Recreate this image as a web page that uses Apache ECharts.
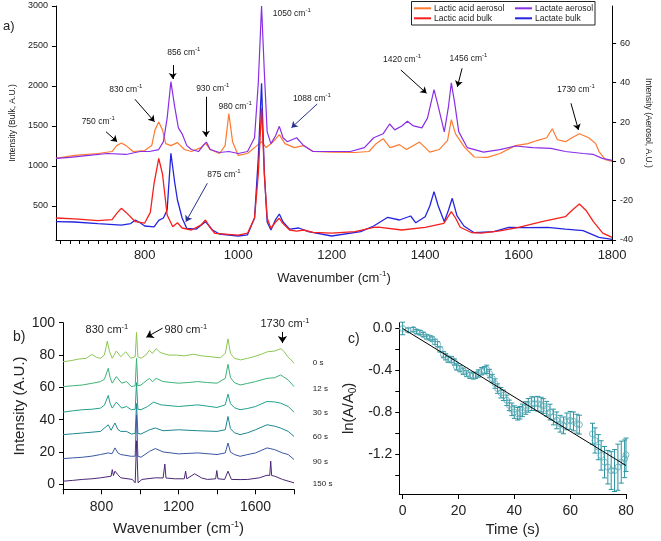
<!DOCTYPE html>
<html><head><meta charset="utf-8">
<script src="https://cdn.jsdelivr.net/npm/echarts@6/dist/echarts.min.js"></script>
<style>html,body{margin:0;padding:0;background:#fff}#c{width:661px;height:541px}</style>
</head><body><div id="c"></div>
<script>
// ---------- Panel a) data (wavenumber, intensity) ----------
// aerosol spectra on right axis (A.U.)
const LACTIC_AEROSOL = [[610,1.5],[650,3],[700,4],[730,5],[740,8],[750,9.3],[760,8],[775,5],[800,5.5],[815,8],[822,16],[830,20],[838,16],[845,9],[856,8],[870,9.5],[885,6],[900,5],[920,7],[930,9.3],[940,6],[960,4],[972,8],[980,24.3],[988,10],[1000,3],[1020,4],[1040,8],[1050,10],[1060,7],[1075,10],[1088,13.6],[1100,9],[1120,7],[1140,8],[1160,5],[1200,4.7],[1250,4.5],[1280,5],[1295,9],[1310,11.5],[1325,7],[1345,8.5],[1360,6],[1388,9.8],[1410,4.7],[1430,6],[1448,10.7],[1456,21.2],[1465,14],[1485,7],[1505,2.2],[1533,2],[1560,4],[1593,8],[1620,9],[1641,10.7],[1660,12],[1672,16.6],[1683,11],[1700,10],[1717,12.4],[1730,14],[1750,12],[1765,9],[1772,5],[1786,0.8],[1800,0]];
const LACTATE_AEROSOL = [[610,1.5],[640,2],[680,3],[720,4],[760,3.5],[790,5],[810,5],[830,6],[840,10],[848,22],[856,40.5],[864,28],[872,17],[880,14],[890,8],[900,6],[915,5],[925,8],[932,9.8],[940,6],[960,4.5],[980,5],[1000,4],[1020,5],[1035,12],[1043,40],[1050,79],[1056,45],[1062,15],[1070,9],[1080,13],[1088,17.8],[1096,12],[1105,10],[1115,11],[1125,12],[1140,8],[1160,5],[1200,5],[1240,5],[1270,7],[1290,12],[1310,14],[1324,19],[1335,16],[1350,18],[1362,20.4],[1375,18],[1393,17],[1405,22],[1419,36.5],[1428,28],[1441,15],[1450,28],[1456,39.9],[1463,30],[1472,15],[1490,7],[1525,4.7],[1560,6],[1593,7.8],[1630,7],[1669,6.6],[1700,5],[1738,4],[1760,3.5],[1779,1.5],[1800,0.5]];
// bulk spectra on left axis (A.U.)
const LACTIC_BULK = [[610,350],[650,340],[700,316],[730,330],[742,420],[750,471],[760,420],[780,304],[800,287],[812,420],[820,784],[830,1096],[838,900],[848,387],[860,241],[870,291],[880,225],[900,200],[920,260],[930,325],[940,230],[950,159],[1000,137],[1020,160],[1035,350],[1043,900],[1050,1721],[1056,900],[1062,350],[1070,220],[1080,300],[1088,346],[1096,280],[1110,200],[1125,185],[1140,200],[1160,170],[1200,160],[1250,180],[1290,234],[1300,235],[1350,200],[1400,234],[1440,284],[1456,429],[1465,350],[1475,234],[1500,166],[1520,160],[1560,190],[1600,234],[1650,304],[1700,366],[1715,450],[1730,525],[1745,440],[1760,304],[1780,160],[1800,109]];
const LACTATE_BULK = [[610,304],[650,300],[700,280],[750,262],[770,280],[780,325],[790,290],[800,250],[820,240],[830,320],[840,350],[848,450],[856,1159],[864,800],[870,575],[880,350],[890,220],[910,210],[930,304],[945,200],[960,150],[1000,125],[1020,140],[1035,350],[1043,1100],[1050,2033],[1056,900],[1062,300],[1070,200],[1080,330],[1088,400],[1096,300],[1110,210],[1130,225],[1150,180],[1200,125],[1262,180],[1290,250],[1320,359],[1345,325],[1369,375],[1380,290],[1400,366],[1410,500],[1419,679],[1428,500],[1441,304],[1450,450],[1458,596],[1468,380],[1483,250],[1505,166],[1547,180],[1579,234],[1620,230],[1662,234],[1700,210],[1738,191],[1772,109],[1800,84]];
const A_X_LABELS = [800,1000,1200,1400,1600,1800];
const A_YL_LABELS = [500,1000,1500,2000,2500,3000];
const A_YR_LABELS = [-40,-20,0,20,40,60];
// annotations: [text, wavenumber (left edge), bulk-axis value]
const A_NOTES = [['750 cm',665,1554],['830 cm',724,1950],['856 cm',848,2416],['930 cm',910,1971],['980 cm',958,1741],['1050 cm',1074,2909],['1088 cm',1117,1846],['875 cm',934,887],['1420 cm',1310,2325],['1456 cm',1452,2346],['1730 cm',1682,1950]];
// arrows: [fromX, fromY, toX, toY, colour]
const A_ARROWS = [[717,1429,741,1304,'#000'],[779,1834,821,1554,'#000'],[860,2262,860,2087,'#000'],[931,1866,931,1366,'#000'],[1169,1775,1114,1479,'#25308f'],[934,784,888,304,'#25308f'],[1348,2200,1403,1909,'#000'],[1479,2221,1469,1991,'#000'],[1712,1784,1728,1450,'#000']];

// ---------- Panel b) data ----------
const B_TIMES = ['0 s','12 s','30 s','60 s','90 s','150 s'];
const T0 = [[600,75.9],[640,76.5],[681,77.5],[720,78],[751,80.4],[775,78.5],[795,78],[815,80],[830,88.6],[842,82],[856,78],[877,82.5],[900,79],[926,82],[952,78],[975,79],[982,94],[989,79],[1005,78],[1030,80],[1049,83],[1065,81],[1084,84],[1100,82],[1119,81],[1150,80],[1189,80],[1230,79.5],[1277,80.5],[1320,79.5],[1364,79],[1417,78.3],[1443,81],[1457,90],[1470,81],[1490,78],[1522,77],[1560,78],[1592,79],[1630,80.5],[1662,82],[1700,82.5],[1732,84],[1750,82],[1767,79],[1785,77],[1800,75]];
const T12 = [[600,60.5],[650,61],[700,61.5],[750,62.5],[795,63.6],[815,65],[835,71.8],[845,66],[856,62.6],[877,66.7],[905,62.6],[930,63.6],[955,60.5],[975,61],[982,78],[989,61],[1005,61.5],[1049,65.6],[1065,63.5],[1084,65.6],[1120,63.6],[1200,62.6],[1250,63],[1300,63.6],[1350,63],[1400,62.6],[1443,65.6],[1457,74.3],[1470,66],[1490,63],[1520,61.5],[1560,62.5],[1600,63.6],[1660,65.6],[1700,66],[1730,67.7],[1770,64.6],[1800,60.5]];
const T30 = [[600,44.7],[650,45.5],[700,46.2],[750,46.5],[795,47.2],[815,49],[835,55],[845,50],[856,47.2],[877,50.9],[905,47.2],[930,48.2],[955,46.2],[975,46.5],[982,63],[989,46.5],[1005,46.2],[1040,48.2],[1070,50.9],[1110,49.2],[1200,48.2],[1300,49.2],[1400,47.6],[1443,49.2],[1457,55.8],[1470,50],[1490,47.5],[1520,46.2],[1560,47],[1600,48.2],[1660,51.3],[1700,51],[1730,50.3],[1770,48.2],[1800,44.7]];
const T60 = [[600,30.8],[650,31.3],[700,31.8],[750,32.3],[795,32.8],[835,36.9],[850,33.5],[870,38],[885,34],[900,32.8],[930,32.8],[955,31.2],[975,31.5],[982,50],[989,31.5],[1005,31.2],[1050,33.8],[1080,34.9],[1120,33.2],[1200,33.8],[1300,33.2],[1400,32.8],[1443,33.8],[1457,42],[1470,34.5],[1490,32],[1520,30.8],[1560,32],[1600,33.8],[1660,36.9],[1700,36],[1730,34.9],[1770,32.8],[1800,29.7]];
const T90 = [[600,16],[650,16.4],[700,16.8],[750,17.5],[795,18.5],[835,19.5],[855,19],[870,22.6],[885,19.5],[900,18.5],[955,17.4],[975,17.5],[982,43],[989,17.5],[1005,16.8],[1050,20.5],[1080,22.2],[1120,20.1],[1200,18.9],[1300,19.5],[1400,18.5],[1443,19.5],[1457,25.6],[1470,20],[1490,18.5],[1520,17.4],[1560,18.5],[1600,19.5],[1660,22.6],[1700,21.5],[1740,19.5],[1770,18.5],[1800,15.4]];
const T150 = [[600,2],[650,2.5],[700,3.1],[750,3.5],[795,4.1],[850,5.1],[856,9.2],[862,5.5],[870,8.2],[885,6],[900,4.1],[960,3.1],[975,1],[982,27],[990,1],[1010,3.1],[1080,4.1],[1120,4],[1129,12.6],[1135,4],[1180,3.5],[1230,3.5],[1237,8.2],[1243,3.5],[1284,6.6],[1320,4],[1350,3.1],[1393,3.5],[1399,8.6],[1405,3.5],[1440,3.1],[1457,8.2],[1475,3.1],[1520,3],[1560,3.1],[1620,4.1],[1660,5.7],[1674,5.5],[1679,14.4],[1684,5.5],[1700,5.1],[1740,3.1],[1800,1]];
const B_COLORS = ['#8cc653','#3db276','#21a08a','#1c8790','#3a56a2','#4a2676'];
const B_LABEL_Y = [75.3,59,44.3,29.5,14.3,0.6];
const B_X_LABELS = [800,1200,1600];
const B_Y_LABELS = [0,20,40,60,80,100];
const B_NOTES = [['830 cm',717,95.4],['980 cm',1127,95.4],['1730 cm',1626,99]];
const B_ARROWS = [[1117,96.6,1033,91],[1740,94.3,1740,87.4]];

// ---------- Panel c) data ----------
const C_TIME = [0,2,3.8,5,6.2,7.4,8.6,9.8,10.6,11.6,12.5,13.4,14.6,15.4,16.3,17.5,18.5,19.3,20.5,21.7,22.9,24.1,25.3,26.1,27.1,28.3,29.3,30.1,31.1,32.1,33.1,34,35.2,36.1,37.3,38.2,39.1,40,41.2,42,42.9,44.1,45,46.2,47.2,48.4,49.6,50.4,51.6,52.8,54,55.2,56.4,57.6,58.8,60,61.2,62.4,63.3,68,68.9,70.1,71.1,72.3,73.5,74.7,75.9,77.1,78.3,79.5,80];
const C_VAL = [0,-0.016,-0.01,-0.03,-0.04,-0.058,-0.08,-0.09,-0.1,-0.128,-0.15,-0.2,-0.249,-0.27,-0.294,-0.297,-0.32,-0.367,-0.383,-0.408,-0.43,-0.447,-0.453,-0.447,-0.43,-0.408,-0.399,-0.39,-0.43,-0.478,-0.526,-0.574,-0.613,-0.638,-0.686,-0.734,-0.772,-0.798,-0.814,-0.804,-0.782,-0.759,-0.734,-0.718,-0.718,-0.718,-0.727,-0.74,-0.766,-0.798,-0.845,-0.877,-0.909,-0.925,-0.887,-0.877,-0.887,-0.909,-0.918,-1.005,-1.069,-1.133,-1.212,-1.276,-1.324,-1.356,-1.356,-1.324,-1.276,-1.244,-1.206];
const C_ERR = [0.06,0.02,0.02,0.02,0.02,0.02,0.02,0.02,0.02,0.025,0.025,0.025,0.03,0.03,0.03,0.03,0.03,0.03,0.03,0.03,0.03,0.03,0.03,0.03,0.035,0.035,0.035,0.04,0.04,0.04,0.045,0.045,0.05,0.05,0.05,0.05,0.06,0.06,0.06,0.06,0.06,0.06,0.065,0.065,0.065,0.07,0.07,0.07,0.07,0.075,0.075,0.08,0.08,0.08,0.08,0.085,0.09,0.09,0.09,0.1,0.12,0.12,0.14,0.15,0.16,0.18,0.2,0.22,0.2,0.18,0.16];
const C_FIT_T = [0,80];
const C_FIT_V = [0,-1.308];
const C_X_LABELS = [0,20,40,60,80];
const C_Y_LABELS = [0,-0.4,-0.8,-1.2];
const C_Y_TICKS = [0,-0.2,-0.4,-0.6,-0.8,-1.0,-1.2,-1.4];

// ---------- chart ----------
const FONT = 'Liberation Sans, Arial, sans-serif';
const INK = '#222';
const aTicks = []; for (let v = 620; v <= 1800; v += 20) aTicks.push(v);
const bTicks = []; for (let v = 600; v <= 1800; v += 200) bTicks.push(v);
const plain = v => String(v);

function axisBase(extra) {
  return Object.assign({
    type: 'value', scale: false,
    axisLine: {show: true, onZero: false, lineStyle: {color: '#000', width: 1}},
    splitLine: {show: false}
  }, extra);
}

const chart = echarts.init(document.getElementById('c'));
const cData = C_TIME.map((t, i) => [t, C_VAL[i], C_ERR[i]]);
const teal = '#2b93a0';

const option = {
  animation: false,
  textStyle: {fontFamily: FONT},
  grid: [
    {left: 44, right: 40, top: 6, bottom: 301},
    {left: 63, right: 367, top: 322.7, bottom: 51.7},
    {left: 399.3, right: 35, top: 322.7, bottom: 47}
  ],
  legend: [
    {data: ['Lactic acid aerosol', 'Lactic acid bulk'], orient: 'vertical', left: 414, top: 3.3, padding: 0,
     itemWidth: 17, itemHeight: 2, itemGap: 0, icon: 'rect', selectedMode: false,
     textStyle: {fontSize: 8.5, lineHeight: 10, color: INK, fontFamily: FONT, padding: [0, 0, 0, -2]}},
    {data: ['Lactate aerosol', 'Lactate bulk'], orient: 'vertical', left: 515, top: 3.3, padding: 0,
     itemWidth: 17, itemHeight: 2, itemGap: 0, icon: 'rect', selectedMode: false,
     textStyle: {fontSize: 8.5, lineHeight: 10, color: INK, fontFamily: FONT, padding: [0, 0, 0, -2]}}
  ],
  xAxis: [
    axisBase({gridIndex: 0, min: 610, max: 1800,
      axisTick: {show: true, length: 4, customValues: aTicks, lineStyle: {color: '#000'}},
      axisLabel: {customValues: A_X_LABELS, fontSize: 13, margin: 9, color: INK, formatter: plain},
      name: 'Wavenumber (cm{s|-1})', nameLocation: 'middle', nameGap: 30,
      nameTextStyle: {fontSize: 13, color: INK, lineHeight: 16, rich: {s: {fontSize: 8, verticalAlign: 'top', color: INK, lineHeight: 16}}}}),
    axisBase({gridIndex: 1, min: 600, max: 1800,
      axisTick: {show: true, length: 5, customValues: bTicks, lineStyle: {color: '#000'}},
      axisLabel: {customValues: B_X_LABELS, fontSize: 14, margin: 11, color: INK, formatter: plain},
      name: 'Wavenumber (cm{s|-1})', nameLocation: 'middle', nameGap: 31,
      nameTextStyle: {fontSize: 15, color: INK, lineHeight: 18, rich: {s: {fontSize: 9, verticalAlign: 'top', color: INK, lineHeight: 18}}}}),
    axisBase({gridIndex: 2, min: -1.2, max: 80,
      axisTick: {show: true, length: 5, customValues: C_X_LABELS, lineStyle: {color: '#000'}},
      axisLabel: {customValues: C_X_LABELS, fontSize: 14, margin: 10, color: INK, formatter: plain},
      name: 'Time (s)', nameLocation: 'middle', nameGap: 28,
      nameTextStyle: {fontSize: 15, color: INK}})
  ],
  yAxis: [
    axisBase({gridIndex: 0, position: 'left', min: 75, max: 3000,
      axisTick: {show: true, length: 4, customValues: A_YL_LABELS, lineStyle: {color: '#000'}},
      axisLabel: {customValues: A_YL_LABELS, fontSize: 9, margin: 8, color: INK, formatter: plain},
      name: 'Intensity (Bulk, A.U.)', nameLocation: 'middle', nameGap: 32,
      nameTextStyle: {fontSize: 8.5, color: INK}}),
    axisBase({gridIndex: 0, position: 'right', min: -40, max: 79,
      axisTick: {show: true, length: 4, customValues: A_YR_LABELS, lineStyle: {color: '#000'}},
      axisLabel: {customValues: A_YR_LABELS, fontSize: 9, margin: 8, color: INK, formatter: plain},
      name: 'Intensity (Aerosol, A.U.)', nameLocation: 'middle', nameGap: 24, nameRotate: -90,
      nameTextStyle: {fontSize: 8.5, color: INK}}),
    axisBase({gridIndex: 1, min: -3, max: 100,
      axisTick: {show: true, length: 4, customValues: B_Y_LABELS, lineStyle: {color: '#000'}},
      axisLabel: {customValues: B_Y_LABELS, fontSize: 14, margin: 8, color: INK, formatter: plain},
      name: 'Intensity (A.U.)', nameLocation: 'middle', nameGap: 35,
      nameTextStyle: {fontSize: 15, color: INK}}),
    axisBase({gridIndex: 2, min: -1.58, max: 0.055,
      axisTick: {show: true, length: 4, customValues: C_Y_TICKS, lineStyle: {color: '#000'}},
      axisLabel: {customValues: C_Y_LABELS, fontSize: 14, margin: 7, color: INK, formatter: v => (Math.abs(v) < 1e-9 ? 0 : v).toFixed(1)},
      name: 'ln(A/A{sub|0})', nameLocation: 'middle', nameGap: 41,
      nameTextStyle: {fontSize: 15, color: INK, lineHeight: 18, rich: {sub: {fontSize: 10, verticalAlign: 'bottom', color: INK, lineHeight: 18}}}})
  ],
  series: []
};

const lineS = (name, data, color, xi, yi, w, extra) => Object.assign({
  name, type: 'line', xAxisIndex: xi, yAxisIndex: yi, data, symbol: 'none', showSymbol: false,
  lineStyle: {color, width: w}, itemStyle: {color}, z: 2
}, extra || {});

option.series.push(lineS('Lactic acid aerosol', LACTIC_AEROSOL, '#ff7a2e', 0, 1, 1.2));
option.series.push(lineS('Lactate aerosol', LACTATE_AEROSOL, '#8a2ee6', 0, 1, 1.2));
option.series.push(lineS('Lactate bulk', LACTATE_BULK, '#2424e0', 0, 0, 1.3));
option.series.push(lineS('Lactic acid bulk', LACTIC_BULK, '#f5201c', 0, 0, 1.3, {
  markLine: {silent: true, symbol: ['none', 'arrow'], symbolSize: 6, animation: false,
    label: {show: false},
    data: A_ARROWS.map(a => [{coord: [a[0], a[1]], lineStyle: {color: a[4], width: 1, type: 'solid'}}, {coord: [a[2], a[3]]}])}
}));
const bTraces = [T0, T12, T30, T60, T90, T150];
bTraces.forEach((tr, i) => {
  const extra = i === 0 ? {markLine: {silent: true, symbol: ['none', 'arrow'], symbolSize: 7, animation: false,
    label: {show: false}, lineStyle: {color: '#000', width: 1, type: 'solid'},
    data: B_ARROWS.map(a => [{coord: [a[0], a[1]]}, {coord: [a[2], a[3]]}])}} : {};
  option.series.push(lineS(B_TIMES[i], tr, B_COLORS[i], 1, 2, 1, extra));
});
option.series.push({
  type: 'custom', xAxisIndex: 2, yAxisIndex: 3, data: cData, clip: false, z: 3,
  renderItem: (params, api) => {
    const x = api.value(0), y = api.value(1), e = api.value(2);
    const p1 = api.coord([x, y + e]), p2 = api.coord([x, y - e]);
    const st = {stroke: teal, lineWidth: 1};
    return {type: 'group', children: [
      {type: 'line', shape: {x1: p1[0], y1: p1[1], x2: p2[0], y2: p2[1]}, style: st},
      {type: 'line', shape: {x1: p1[0] - 2.5, y1: p1[1], x2: p1[0] + 2.5, y2: p1[1]}, style: st},
      {type: 'line', shape: {x1: p2[0] - 2.5, y1: p2[1], x2: p2[0] + 2.5, y2: p2[1]}, style: st}
    ]};
  }
});
option.series.push({
  type: 'scatter', xAxisIndex: 2, yAxisIndex: 3, data: cData.map(d => [d[0], d[1]]), clip: false,
  symbol: 'circle', symbolSize: 6, z: 4,
  itemStyle: {color: 'rgba(0,0,0,0)', borderColor: '#5aaab5', borderWidth: 1}
});
option.series.push(lineS('fit', C_FIT_T.map((t, i) => [t, C_FIT_V[i]]), '#000', 2, 3, 1, {z: 5}));

chart.setOption(option);

// ---------- text annotations placed through the axes' scales ----------
const g = [];
g.push({type: 'rect', z: 3, shape: {x: 411.5, y: 1.5, width: 183.5, height: 23.5}, style: {fill: '#fff', stroke: '#222', lineWidth: 1}});
function noteText(txt, px, fs, sup) {
  return {type: 'text', z: 10, x: px[0], y: px[1], style: {
    text: txt + '{s|-1}', fontSize: fs, fontFamily: FONT, fill: INK, align: 'left', verticalAlign: 'middle',
    lineHeight: fs + 4,
    rich: {s: {fontSize: sup, fontFamily: FONT, fill: INK, verticalAlign: 'top', lineHeight: fs + 4}}
  }};
}
A_NOTES.forEach(n => {
  const p = chart.convertToPixel({xAxisIndex: 0, yAxisIndex: 0}, [n[1], n[2]]);
  g.push(noteText(n[0], p, 8.5, 6));
});
B_NOTES.forEach(n => {
  const p = chart.convertToPixel({xAxisIndex: 1, yAxisIndex: 2}, [n[1], n[2]]);
  g.push(noteText(n[0], p, 11, 7.5));
});
B_TIMES.forEach((t, i) => {
  const p = chart.convertToPixel({xAxisIndex: 1, yAxisIndex: 2}, [1898, B_LABEL_Y[i]]);
  g.push({type: 'text', z: 10, x: p[0], y: p[1], style: {text: t, fontSize: 8, fontFamily: FONT, fill: INK, align: 'left', verticalAlign: 'middle'}});
});
[['a)', 3, 26, 13], ['b)', 13, 337, 14], ['c)', 348, 339, 14]].forEach(l => {
  g.push({type: 'text', z: 10, x: l[1], y: l[2], style: {text: l[0], fontSize: l[3], fontFamily: FONT, fill: INK, align: 'left', verticalAlign: 'middle'}});
});
chart.setOption({graphic: g});
</script>
</body></html>
